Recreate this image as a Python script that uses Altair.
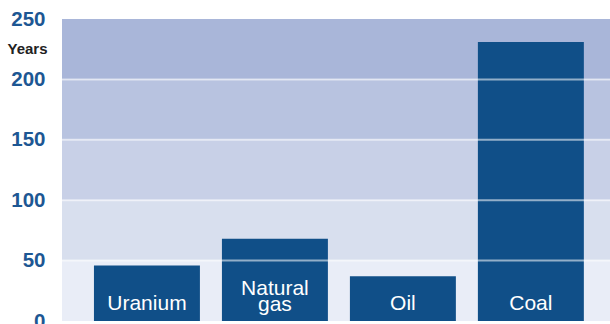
import altair as alt
import pandas as pd

fuels = ["Uranium", "Natural gas", "Oil", "Coal"]
labels = ["Uranium", "Natural\ngas", "Oil", "Coal"]
lines = [1, 2, 1, 1]
years = [46, 68, 37, 231]
band_lo = [0, 50, 100, 150, 200]
band_hi = [50, 100, 150, 200, 250]
y_ticks = [0, 50, 100, 150, 200, 250]
grid_vals = [50, 100, 150, 200]

band_colors = ["#e9edf7", "#d8dfee", "#c8d0e7", "#b8c3e0", "#a9b6d9"]
bar_color = "#104f88"
label_blue = "#1d5793"

bars_df = pd.DataFrame({"fuel": fuels, "years": years, "label": labels, "lines": lines})
bands_df = pd.DataFrame({"lo": band_lo, "hi": band_hi})
grid_df = pd.DataFrame({"v": grid_vals})

W, H = 548, 302
yscale = alt.Scale(domain=[0, 250], nice=False, zero=True)
xscale = alt.Scale(domain=fuels, paddingInner=0.172, paddingOuter=0.227, align=0.55)

bands = alt.Chart(bands_df).mark_rect().encode(
    x=alt.value(0),
    x2=alt.value("width"),
    y=alt.Y("lo:Q", scale=yscale, axis=alt.Axis(
        values=y_ticks, domain=False, ticks=False, grid=False,
        labelFont="Liberation Sans", labelFontSize=20.5, labelFontWeight="bold",
        labelColor=label_blue, labelPadding=17,
        title="Years", titleAngle=0, titleX=-15, titleY=34, titleAlign="right",
        titleBaseline="alphabetic", titleFont="Liberation Sans", titleFontSize=15,
        titleFontWeight="bold", titleColor="#222222",
    )),
    y2="hi:Q",
    color=alt.Color("lo:O", scale=alt.Scale(domain=band_lo, range=band_colors), legend=None),
)

bars = alt.Chart(bars_df).mark_bar(color=bar_color).encode(
    x=alt.X("fuel:N", scale=xscale, axis=None, sort=fuels),
    y=alt.Y("years:Q", scale=yscale),
)

text_common = dict(color="white", font="Liberation Sans", fontSize=21,
                   baseline="alphabetic", lineBreak="\n", align="center")

text1 = alt.Chart(bars_df).transform_filter("datum.lines == 1").mark_text(
    dy=-11.5, lineHeight=14, **text_common
).encode(
    x=alt.X("fuel:N", scale=xscale, axis=None, sort=fuels),
    y=alt.datum(0),
    text="label:N",
)

text2 = alt.Chart(bars_df).transform_filter("datum.lines == 2").mark_text(
    dy=-26.5, lineHeight=16, **text_common
).encode(
    x=alt.X("fuel:N", scale=xscale, axis=None, sort=fuels),
    y=alt.datum(0),
    text="label:N",
)

grid = alt.Chart(grid_df).mark_rule(color="white", opacity=0.55, strokeWidth=2).encode(
    y=alt.Y("v:Q", scale=yscale),
)

chart = alt.layer(bands, bars, grid, text1, text2).properties(
    width=W, height=H,
    autosize=alt.AutoSizeParams(type="none"),
    padding={"left": 62, "top": 19, "right": 0, "bottom": 10},
).configure_view(stroke=None)

chart.save("out.html", embed_options={"renderer": "svg", "actions": False})
